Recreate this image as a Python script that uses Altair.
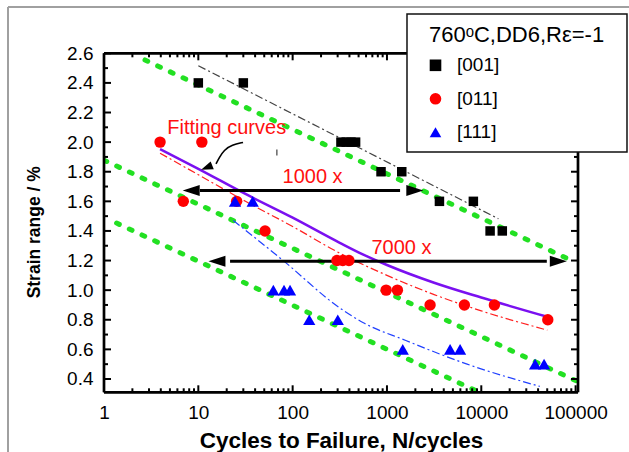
import altair as alt
import pandas as pd

# ---------------- data ----------------
orient_labels = ["[001]", "[011]", "[111]"]

n001 = [10, 30, 325, 370, 415, 465, 865, 1435, 3600, 8240, 12400, 16700]
s001 = [2.4, 2.4, 2.0, 2.0, 2.0, 2.0, 1.8, 1.8, 1.6, 1.6, 1.4, 1.4]

n011 = [3.93, 10.9, 6.93, 25.5, 51, 295, 340, 395, 980, 1290, 2865, 6620, 13770, 50700]
s011 = [2.0, 2.0, 1.6, 1.6, 1.4, 1.2, 1.2, 1.2, 1.0, 1.0, 0.9, 0.9, 0.9, 0.8]

n111 = [24.5, 37.7, 62.4, 81, 93.8, 150, 301, 1470, 4670, 5960, 37200, 46300]
s111 = [1.6, 1.6, 1.0, 1.0, 1.0, 0.8, 0.8, 0.6, 0.6, 0.6, 0.5, 0.5]

# fitting curves
fit001_n = [10, 15200]
fit001_s = [2.516, 1.482]
fit011_n = [3.93, 10, 31.6, 100, 316, 1000, 3162, 10000, 50100]
fit011_s = [1.925, 1.78, 1.60, 1.43, 1.25, 1.10, 0.97, 0.86, 0.73]
fitall_n = [3.93, 10, 31.6, 100, 316, 562, 1000, 3162, 10000, 50100]
fitall_s = [1.952, 1.82, 1.65, 1.49, 1.32, 1.24, 1.17, 1.05, 0.95, 0.82]
fit111_n = [23.5, 79.4, 316, 562, 1585, 7080, 41700]
fit111_s = [1.47, 1.20, 0.88, 0.78, 0.66, 0.50, 0.35]

# green scatter-band lines
g1_n = [2.72, 100000]
g1_s = [2.555, 1.187]
g2_n = [1, 100000]
g2_s = [1.878, 0.389]
g3_n = [1.36, 9500]
g3_s = [1.453, 0.31]

# annotation arrows
arr1_n = [10.4, 1377]
arr1_s = [1.673, 1.673]
arr2_n = [21.7, 49500]
arr2_s = [1.195, 1.195]
head_n = [6.83, 2430, 12.8, 80700]
head_s = [1.673, 1.673, 1.195, 1.195]
head_ang = [180, 0, 180, 0]

curve_n = [29.8, 22.8, 18.7, 16.6, 15.4]
curve_s = [1.998, 1.981, 1.947, 1.893, 1.853]
curve_head_n = [10.7]
curve_head_s = [1.813]
curve_head_ang = [158]

txt_labels = ["Fitting curves", "1000 x", "7000 x"]
txt_n = [20, 162.6, 1426]
txt_s = [2.094, 1.762, 1.284]

x_major = [1, 10, 100, 1000, 10000, 100000]
x_minor = [m * d for d in [1, 10, 100, 1000, 10000] for m in range(2, 10)]
y_major = [0.4, 0.6, 0.8, 1.0, 1.2, 1.4, 1.6, 1.8, 2.0, 2.2, 2.4, 2.6]
y_minor = [0.5, 0.7, 0.9, 1.1, 1.3, 1.5, 1.7, 1.9, 2.1, 2.3, 2.5]

# ---------------- tables ----------------
pts = pd.DataFrame({
    "n": n001 + n011 + n111,
    "s": s001 + s011 + s111,
    "o": [orient_labels[0]] * len(n001) + [orient_labels[1]] * len(n011) + [orient_labels[2]] * len(n111),
})

def line_df(ns, ss):
    return pd.DataFrame({"n": ns, "s": ss, "i": list(range(len(ns)))})

W, H = 474, 339
FONT = "Liberation Sans, Arial, Helvetica, sans-serif"

xs = alt.Scale(type="log", domain=[1, 106000], nice=False)
ys = alt.Scale(domain=[0.31, 2.6], zero=False, nice=False)

x_axis = alt.Axis(
    values=x_major, format="d", ticks=False, tickSize=0, domain=False, grid=False,
    labelFontSize=19, labelColor="black", labelFont=FONT, labelPadding=25.8,
    labelBaseline="alphabetic", labelFlush=False, labelOverlap=False,
    title="Cycles to Failure, N/cycles", titleFontSize=22.5, titleFontWeight="bold",
    titleFont=FONT, titleColor="black", titleY=55.5, titleBaseline="alphabetic")
y_axis = alt.Axis(
    values=y_major, format=".1f", ticks=False, tickSize=0, domain=False, grid=False,
    labelFontSize=19, labelColor="black", labelFont=FONT, labelPadding=11,
    labelBaseline="middle", labelFlush=False, labelOverlap=False,
    title="Strain range / %", titleFontSize=17.5, titleFontWeight="bold",
    titleFont=FONT, titleColor="black", titleX=-70, titleY=178.5,
    titleBaseline="middle", titleAlign="center")

X = lambda: alt.X("n:Q", scale=xs, axis=x_axis)
Y = lambda: alt.Y("s:Q", scale=ys, axis=y_axis)

green = "#22e022"
layers = []

for ns, ss in [(g1_n, g1_s), (g2_n, g2_s), (g3_n, g3_s)]:
    layers.append(alt.Chart(line_df(ns, ss)).mark_line(
        color=green, strokeWidth=5, strokeDash=[3, 11], strokeCap="round", clip=True
    ).encode(x=X(), y=Y(), order="i:Q"))

layers.append(alt.Chart(line_df(fit001_n, fit001_s)).mark_line(
    color="#444444", strokeWidth=1.2, strokeDash=[8, 3, 2, 3]).encode(x=X(), y=Y(), order="i:Q"))
layers.append(alt.Chart(line_df(fit011_n, fit011_s)).mark_line(
    color="#ff2020", strokeWidth=1.2, strokeDash=[8, 3, 2, 3], interpolate="monotone").encode(x=X(), y=Y(), order="i:Q"))
layers.append(alt.Chart(line_df(fit111_n, fit111_s)).mark_line(
    color="#2040ff", strokeWidth=1.2, strokeDash=[8, 3, 2, 3], interpolate="monotone").encode(x=X(), y=Y(), order="i:Q"))
layers.append(alt.Chart(line_df(fitall_n, fitall_s)).mark_line(
    color="#7a10f0", strokeWidth=2.5, interpolate="monotone").encode(x=X(), y=Y(), order="i:Q"))

# arrows
for ns, ss in [(arr1_n, arr1_s), (arr2_n, arr2_s)]:
    layers.append(alt.Chart(line_df(ns, ss)).mark_line(
        color="black", strokeWidth=3).encode(x=X(), y=Y(), order="i:Q"))
heads = pd.DataFrame({"n": head_n, "s": head_s, "a": head_ang})
layers.append(alt.Chart(heads).mark_point(
    shape="M0,0L-2,-0.65L-2,0.65Z", filled=True, color="black", opacity=1, size=289, strokeWidth=0
).encode(x=X(), y=Y(), angle=alt.Angle("a:Q", scale=None)))

layers.append(alt.Chart(line_df(curve_n, curve_s)).mark_line(
    color="black", strokeWidth=1.6, interpolate="basis").encode(x=X(), y=Y(), order="i:Q"))
chead = pd.DataFrame({"n": curve_head_n, "s": curve_head_s, "a": curve_head_ang})
layers.append(alt.Chart(chead).mark_point(
    shape="M0,0L-2,-0.7L-2,0.7Z", filled=True, color="black", opacity=1, size=144, strokeWidth=0
).encode(x=X(), y=Y(), angle=alt.Angle("a:Q", scale=None)))

# small tick artefact
layers.append(alt.Chart(pd.DataFrame({"n": [68], "s": [1.95], "s2": [1.91]})).mark_rule(
    color="#666666", strokeWidth=1.5).encode(x=X(), y=Y(), y2="s2:Q"))

txt = pd.DataFrame({"t": txt_labels, "n": txt_n, "s": txt_s})
layers.append(alt.Chart(txt).mark_text(
    color="#ff1010", fontSize=20, font=FONT, baseline="middle", align="center"
).encode(x=X(), y=Y(), text="t:N"))

# data points
legend = alt.Legend(
    title="760ᵒC,DD6,Rε=-1", orient="none", legendX=325, legendY=-28,
    titleFontSize=22, titleFontWeight="normal", titleColor="black", titleFont=FONT,
    labelFontSize=19, labelColor="black", labelFont=FONT,
    symbolSize=135, rowPadding=13.5, titlePadding=8.5, labelOffset=12, padding=0,
    symbolOffset=-3, titleLimit=500, symbolStrokeWidth=0,
)
layers.append(alt.Chart(pts).transform_calculate(
    sz="datum.o === '[001]' ? 90 : (datum.o === '[011]' ? 130 : 150)"
).mark_point(filled=True, opacity=1, strokeWidth=0).encode(
    x=X(), y=Y(),
    color=alt.Color("o:N", scale=alt.Scale(domain=orient_labels, range=["black", "#ff0000", "#0000ff"]), legend=legend),
    shape=alt.Shape("o:N", scale=alt.Scale(domain=orient_labels, range=["square", "circle", "triangle-up"]), legend=legend),
    size=alt.Size("sz:Q", scale=None, legend=None),
))

one = pd.DataFrame({"a": [0]})
# frame
layers.append(alt.Chart(one).mark_rule(color="black", strokeWidth=2.7).encode(
    x=alt.value(0), x2=alt.value(W), y=alt.value(0)))
layers.append(alt.Chart(one).mark_rule(color="black", strokeWidth=2.7).encode(
    x=alt.value(0), x2=alt.value(W), y=alt.value(H)))
layers.append(alt.Chart(one).mark_rule(color="black", strokeWidth=2.7).encode(
    x=alt.value(0), y=alt.value(0), y2=alt.value(H)))
layers.append(alt.Chart(one).mark_rule(color="black", strokeWidth=2.7).encode(
    x=alt.value(W), y=alt.value(0), y2=alt.value(H)))

# inward ticks
for vals, ln in [(x_major, 7), (x_minor, 4)]:
    d = pd.DataFrame({"n": vals})
    layers.append(alt.Chart(d).mark_rule(color="black", strokeWidth=2).encode(
        x=X(), y=alt.value(H), y2=alt.value(H - ln)))
    layers.append(alt.Chart(d).mark_rule(color="black", strokeWidth=2).encode(
        x=X(), y=alt.value(0), y2=alt.value(ln)))
for vals, ln in [(y_major, 7), (y_minor, 4)]:
    d = pd.DataFrame({"s": vals})
    layers.append(alt.Chart(d).mark_rule(color="black", strokeWidth=2).encode(
        y=Y(), x=alt.value(0), x2=alt.value(ln)))
    layers.append(alt.Chart(d).mark_rule(color="black", strokeWidth=2).encode(
        y=Y(), x=alt.value(W), x2=alt.value(W - ln)))

# legend box
layers.append(alt.Chart(one).mark_rect(fill="white", stroke="#111111", strokeWidth=1.5).encode(
    x=alt.value(303), x2=alt.value(523), y=alt.value(-39.3), y2=alt.value(98.7)))

# page border lines
layers.append(alt.Chart(one).mark_rule(color="#a0a0a0", strokeWidth=2).encode(
    x=alt.value(-96), x2=alt.value(530), y=alt.value(-46.3)))
layers.append(alt.Chart(one).mark_rule(color="#a0a0a0", strokeWidth=2).encode(
    x=alt.value(-96), y=alt.value(-46.3), y2=alt.value(H + 60)))

chart = alt.layer(*layers).properties(
    width=W, height=H,
    autosize=alt.AutoSizeParams(type="none"),
    padding={"left": 104, "top": 53.3, "right": 51, "bottom": 60},
).configure_view(stroke=None).configure(background="white", font=FONT)

chart.save("out.html", embed_options={"renderer": "svg", "actions": False})
